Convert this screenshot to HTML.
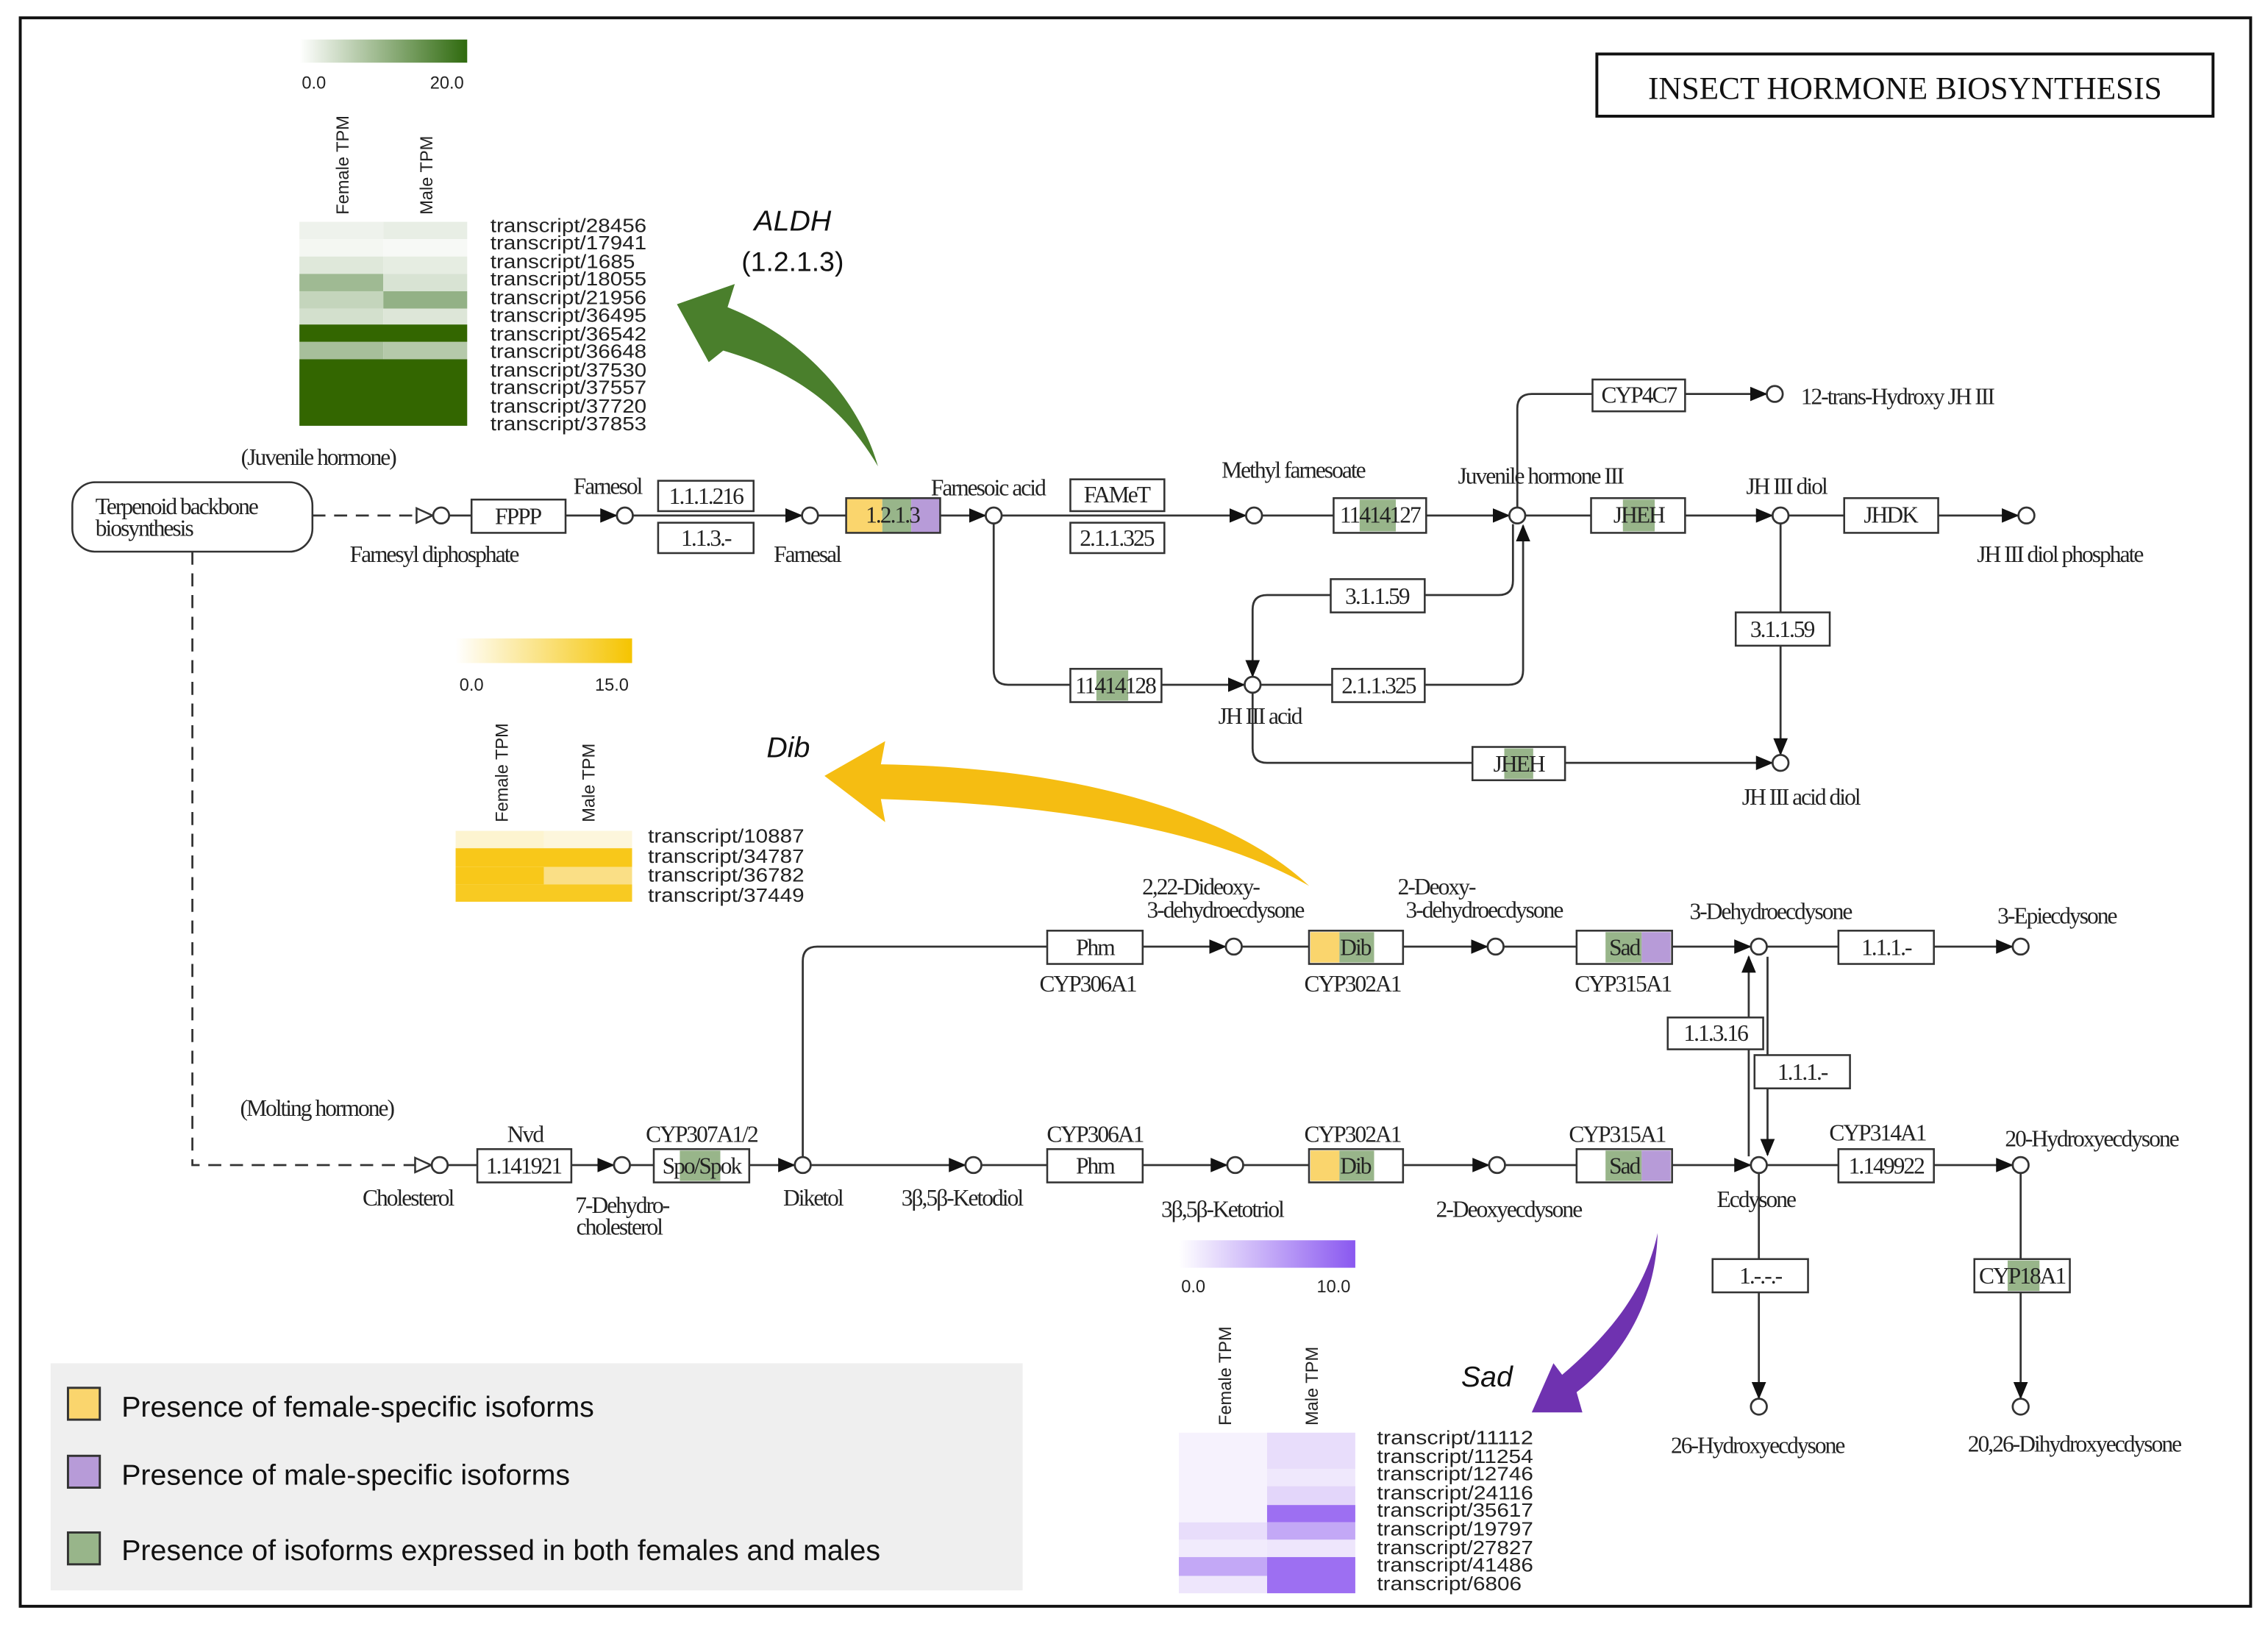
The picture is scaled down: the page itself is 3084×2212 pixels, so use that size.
<!DOCTYPE html>
<html><head><meta charset="utf-8"><style>
html,body{margin:0;padding:0;background:#fff;}
svg{display:block;}
.t{font-family:"Liberation Serif",serif;font-size:16px;fill:#222;letter-spacing:-1px;}
.b{fill:#fff;stroke:#333;stroke-width:1.3;}
.l{stroke:#333;stroke-width:1.4;fill:none;}
.c{fill:#fff;stroke:#333;stroke-width:1.4;}
.s{font-family:"Liberation Sans",sans-serif;font-size:12px;fill:#222;}
.tr{font-family:"Liberation Sans",sans-serif;font-size:13px;fill:#222;}
</style></head><body>
<svg width="3084" height="2212" viewBox="0 0 1568 1124" xmlns="http://www.w3.org/2000/svg">
<defs>
<marker id="a" markerUnits="userSpaceOnUse" markerWidth="12" markerHeight="10" refX="11" refY="5" orient="auto"><path d="M0,0 L12,5 L0,10 z" fill="#111"/></marker>
<marker id="o" markerUnits="userSpaceOnUse" markerWidth="14" markerHeight="12" refX="12" refY="6" orient="auto"><path d="M1,1 L12,6 L1,11 z" fill="#fff" stroke="#333" stroke-width="1.3"/></marker>
<linearGradient id="gg"><stop offset="0" stop-color="#fff"/><stop offset="1" stop-color="#2f6a0e"/></linearGradient>
<linearGradient id="gy"><stop offset="0" stop-color="#fff"/><stop offset="1" stop-color="#f5c400"/></linearGradient>
<linearGradient id="gp"><stop offset="0" stop-color="#fff"/><stop offset="1" stop-color="#8a58f0"/></linearGradient>
</defs>
<rect x="14" y="12" width="1542" height="1098" fill="#fff" stroke="#111" stroke-width="2"/>
<rect x="1104" y="37" width="426" height="43" fill="#fff" stroke="#111" stroke-width="2"/>
<text x="1317" y="68" text-anchor="middle" font-family="Liberation Serif,serif" font-size="22" fill="#111">INSECT HORMONE BIOSYNTHESIS</text>

<rect x="207" y="27" width="116" height="16" fill="url(#gg)"/>
<text class="s" x="217" y="61" text-anchor="middle">0.0</text><text class="s" x="309" y="61" text-anchor="middle">20.0</text>
<text class="s" transform="translate(241,148) rotate(-90)">Female TPM</text>
<text class="s" transform="translate(299,148) rotate(-90)">Male TPM</text>
<g>
<rect x="207" y="153" width="58" height="12" fill="#eef2ec"/><rect x="265" y="153" width="58" height="12" fill="#e8eee5"/>
<rect x="207" y="165" width="58" height="12" fill="#f4f7f2"/><rect x="265" y="165" width="58" height="12" fill="#f7f9f6"/>
<rect x="207" y="177" width="58" height="12" fill="#dfe8da"/><rect x="265" y="177" width="58" height="12" fill="#e6ede2"/>
<rect x="207" y="189" width="58" height="12" fill="#9fba93"/><rect x="265" y="189" width="58" height="12" fill="#d8e3d3"/>
<rect x="207" y="201" width="58" height="12" fill="#c4d5bc"/><rect x="265" y="201" width="58" height="12" fill="#93b186"/>
<rect x="207" y="213" width="58" height="11" fill="#d3e0cd"/><rect x="265" y="213" width="58" height="11" fill="#dde6d8"/>
<rect x="207" y="224" width="116" height="12" fill="#336600"/>
<rect x="207" y="236" width="58" height="12" fill="#a7bf9b"/><rect x="265" y="236" width="58" height="12" fill="#b5c9aa"/>
<rect x="207" y="248" width="116" height="46" fill="#336600"/>
</g>
<g class="tr">
<text x="339" y="160" textLength="108" lengthAdjust="spacingAndGlyphs">transcript/28456</text>
<text x="339" y="172" textLength="108" lengthAdjust="spacingAndGlyphs">transcript/17941</text>
<text x="339" y="185" textLength="100" lengthAdjust="spacingAndGlyphs">transcript/1685</text>
<text x="339" y="197" textLength="108" lengthAdjust="spacingAndGlyphs">transcript/18055</text>
<text x="339" y="210" textLength="108" lengthAdjust="spacingAndGlyphs">transcript/21956</text>
<text x="339" y="222" textLength="108" lengthAdjust="spacingAndGlyphs">transcript/36495</text>
<text x="339" y="235" textLength="108" lengthAdjust="spacingAndGlyphs">transcript/36542</text>
<text x="339" y="247" textLength="108" lengthAdjust="spacingAndGlyphs">transcript/36648</text>
<text x="339" y="260" textLength="108" lengthAdjust="spacingAndGlyphs">transcript/37530</text>
<text x="339" y="272" textLength="108" lengthAdjust="spacingAndGlyphs">transcript/37557</text>
<text x="339" y="285" textLength="108" lengthAdjust="spacingAndGlyphs">transcript/37720</text>
<text x="339" y="297" textLength="108" lengthAdjust="spacingAndGlyphs">transcript/37853</text>
</g>
<text x="548" y="159" text-anchor="middle" font-family="Liberation Sans,sans-serif" font-style="italic" font-size="20" fill="#111">ALDH</text>
<text x="548" y="187" text-anchor="middle" font-family="Liberation Sans,sans-serif" font-size="19" fill="#111">(1.2.1.3)</text>
<path d="M468,210 L508,196 L503,212 C560,235 595,280 607,322 C585,285 555,258 500,242 L490,250 Z" fill="#4a7f2c"/>

<rect x="315" y="441" width="122" height="17" fill="url(#gy)"/>
<text class="s" x="326" y="477" text-anchor="middle">0.0</text><text class="s" x="423" y="477" text-anchor="middle">15.0</text>
<text class="s" transform="translate(351,568) rotate(-90)">Female TPM</text>
<text class="s" transform="translate(411,568) rotate(-90)">Male TPM</text>
<rect x="315" y="574" width="61" height="12" fill="#fdf4d0"/><rect x="376" y="574" width="61" height="12" fill="#fdf6dc"/>
<rect x="315" y="586" width="122" height="13" fill="#f8c81a"/>
<rect x="315" y="599" width="61" height="12" fill="#f8c81a"/><rect x="376" y="599" width="61" height="12" fill="#fadf86"/>
<rect x="315" y="611" width="122" height="12" fill="#f8ca22"/>
<g class="tr">
<text x="448" y="582" textLength="108" lengthAdjust="spacingAndGlyphs">transcript/10887</text>
<text x="448" y="596" textLength="108" lengthAdjust="spacingAndGlyphs">transcript/34787</text>
<text x="448" y="609" textLength="108" lengthAdjust="spacingAndGlyphs">transcript/36782</text>
<text x="448" y="623" textLength="108" lengthAdjust="spacingAndGlyphs">transcript/37449</text>
</g>
<text x="545" y="523" text-anchor="middle" font-family="Liberation Sans,sans-serif" font-style="italic" font-size="20" fill="#111">Dib</text>
<path d="M570,536 L612,512 L609,528 C740,530 850,560 905,612 C840,575 740,556 609,552 L612,568 Z" fill="#f5bd12"/>

<rect x="815" y="857" width="122" height="19" fill="url(#gp)"/>
<text class="s" x="825" y="893" text-anchor="middle">0.0</text><text class="s" x="922" y="893" text-anchor="middle">10.0</text>
<text class="s" transform="translate(851,985) rotate(-90)">Female TPM</text>
<text class="s" transform="translate(911,985) rotate(-90)">Male TPM</text>
<g>
<rect x="815" y="990" width="61" height="111" fill="#f6f2fd"/>
<rect x="876" y="990" width="61" height="25" fill="#e8ddfb"/>
<rect x="876" y="1015" width="61" height="12" fill="#efe8fc"/>
<rect x="876" y="1027" width="61" height="13" fill="#e3d6fa"/>
<rect x="876" y="1040" width="61" height="12" fill="#9d6ff2"/>
<rect x="815" y="1052" width="61" height="12" fill="#e8ddfb"/><rect x="876" y="1052" width="61" height="12" fill="#c3a8f6"/>
<rect x="815" y="1064" width="61" height="12" fill="#f1ebfc"/><rect x="876" y="1064" width="61" height="12" fill="#eee6fc"/>
<rect x="815" y="1076" width="61" height="13" fill="#c3a8f6"/><rect x="876" y="1076" width="61" height="25" fill="#9d6ff2"/>
<rect x="815" y="1089" width="61" height="12" fill="#eee6fc"/>
</g>
<g class="tr">
<text x="952" y="998" textLength="108" lengthAdjust="spacingAndGlyphs">transcript/11112</text>
<text x="952" y="1011" textLength="108" lengthAdjust="spacingAndGlyphs">transcript/11254</text>
<text x="952" y="1023" textLength="108" lengthAdjust="spacingAndGlyphs">transcript/12746</text>
<text x="952" y="1036" textLength="108" lengthAdjust="spacingAndGlyphs">transcript/24116</text>
<text x="952" y="1048" textLength="108" lengthAdjust="spacingAndGlyphs">transcript/35617</text>
<text x="952" y="1061" textLength="108" lengthAdjust="spacingAndGlyphs">transcript/19797</text>
<text x="952" y="1074" textLength="108" lengthAdjust="spacingAndGlyphs">transcript/27827</text>
<text x="952" y="1086" textLength="108" lengthAdjust="spacingAndGlyphs">transcript/41486</text>
<text x="952" y="1099" textLength="100" lengthAdjust="spacingAndGlyphs">transcript/6806</text>
</g>
<text x="1028" y="958" text-anchor="middle" font-family="Liberation Sans,sans-serif" font-style="italic" font-size="20" fill="#111">Sad</text>
<path d="M1059,976 L1074,942 L1080,950 C1115,920 1138,890 1146,852 C1145,895 1125,935 1090,962 L1094,976 Z" fill="#6f32b0"/>

<rect x="35" y="942" width="672" height="157" fill="#efefef"/>
<rect x="47" y="959" width="22" height="22" fill="#fad56d" stroke="#333" stroke-width="1.5"/>
<rect x="47" y="1006" width="22" height="22" fill="#b79bd8" stroke="#333" stroke-width="1.5"/>
<rect x="47" y="1059" width="22" height="22" fill="#98b58a" stroke="#333" stroke-width="1.5"/>
<g font-family="Liberation Sans,sans-serif" font-size="20" fill="#111">
<text x="84" y="979">Presence of female-specific isoforms</text>
<text x="84" y="1026">Presence of male-specific isoforms</text>
<text x="84" y="1078">Presence of isoforms expressed in both females and males</text>
</g>

<rect x="50" y="333" width="166" height="48" rx="16" class="b"/>
<text class="t" x="66" y="355">Terpenoid backbone</text>
<text class="t" x="66" y="370">biosynthesis</text>
<text class="t" x="220" y="321" text-anchor="middle">(Juvenile hormone)</text>
<path d="M216,356 L299,356" class="l" stroke-dasharray="9,6" marker-end="url(#o)"/>
<path d="M133,381 L133,805 L298,805" class="l" stroke-dasharray="9,6" marker-end="url(#o)"/>

<g class="l">
<path d="M310,356 L326,356"/>
<path d="M391,356 L426,356" marker-end="url(#a)"/>
<path d="M437,356 L554,356" marker-end="url(#a)"/>
<path d="M565,356 L585,356"/>
<path d="M650,356 L681,356" marker-end="url(#a)"/>
<path d="M692,356 L861,356" marker-end="url(#a)"/>
<path d="M872,356 L922,356"/>
<path d="M986,356 L1043,356" marker-end="url(#a)"/>
<path d="M1049,350 L1049,282 Q1049,272 1059,272 L1101,272"/>
<path d="M1165,272 L1221,272" marker-end="url(#a)"/>
<path d="M1054,356 L1100,356"/>
<path d="M1165,356 L1225,356" marker-end="url(#a)"/>
<path d="M1236,356 L1275,356"/>
<path d="M1340,356 L1395,356" marker-end="url(#a)"/>
<path d="M1231,361 L1231,423"/>
<path d="M1231,446 L1231,521" marker-end="url(#a)"/>
<path d="M687,361 L687,463 Q687,473 697,473 L740,473"/>
<path d="M803,473 L860,473" marker-end="url(#a)"/>
<path d="M871,473 L921,473"/>
<path d="M985,473 L1043,473 Q1053,473 1053,463 L1053,363" marker-end="url(#a)"/>
<path d="M1046,362 L1046,401 Q1046,411 1036,411 L985,411"/>
<path d="M920,411 L876,411 Q866,411 866,421 L866,467" marker-end="url(#a)"/>
<path d="M866,479 L866,517 Q866,527 876,527 L1018,527"/>
<path d="M1082,527 L1225,527" marker-end="url(#a)"/>
</g>
<g>
<circle cx="305" cy="356" r="5.5" class="c"/><circle cx="432" cy="356" r="5.5" class="c"/>
<circle cx="560" cy="356" r="5.5" class="c"/><circle cx="687" cy="356" r="5.5" class="c"/>
<circle cx="867" cy="356" r="5.5" class="c"/><circle cx="1049" cy="356" r="5.5" class="c"/>
<circle cx="1227" cy="272" r="5.5" class="c"/><circle cx="1231" cy="356" r="5.5" class="c"/>
<circle cx="1401" cy="356" r="5.5" class="c"/><circle cx="866" cy="473" r="5.5" class="c"/>
<circle cx="1231" cy="527" r="5.5" class="c"/>
</g>
<rect x="326" y="345" width="65" height="23" class="b"/><text class="t" x="358" y="362" text-anchor="middle">FPPP</text>
<rect x="455" y="332" width="66" height="21" class="b"/><text class="t" x="488" y="348" text-anchor="middle">1.1.1.216</text>
<rect x="455" y="361" width="66" height="21" class="b"/><text class="t" x="488" y="377" text-anchor="middle">1.1.3.-</text>
<rect x="585" y="344" width="25" height="24" fill="#fad56d"/><rect x="610" y="344" width="20" height="24" fill="#98b58a"/><rect x="630" y="344" width="20" height="24" fill="#b79bd8"/>
<rect x="585" y="344" width="65" height="24" fill="none" stroke="#333" stroke-width="1.3"/><text class="t" x="617" y="361" text-anchor="middle">1.2.1.3</text>
<rect x="740" y="331" width="65" height="22" class="b"/><text class="t" x="772" y="347" text-anchor="middle">FAMeT</text>
<rect x="740" y="361" width="65" height="21" class="b"/><text class="t" x="772" y="377" text-anchor="middle">2.1.1.325</text>
<rect x="922" y="344" width="64" height="24" class="b"/><rect x="940" y="345" width="25" height="22" fill="#98b58a"/><text class="t" x="954" y="361" text-anchor="middle">11414127</text>
<rect x="1101" y="262" width="64" height="22" class="b"/><text class="t" x="1133" y="278" text-anchor="middle">CYP4C7</text>
<rect x="1100" y="344" width="65" height="24" class="b"/><rect x="1122" y="345" width="22" height="22" fill="#98b58a"/><text class="t" x="1133" y="361" text-anchor="middle">JHEH</text>
<rect x="1275" y="344" width="65" height="24" class="b"/><text class="t" x="1307" y="361" text-anchor="middle">JHDK</text>
<rect x="1200" y="423" width="65" height="23" class="b"/><text class="t" x="1232" y="440" text-anchor="middle">3.1.1.59</text>
<rect x="740" y="462" width="63" height="23" class="b"/><rect x="758" y="463" width="22" height="21" fill="#98b58a"/><text class="t" x="771" y="479" text-anchor="middle">11414128</text>
<rect x="920" y="400" width="65" height="23" class="b"/><text class="t" x="952" y="417" text-anchor="middle">3.1.1.59</text>
<rect x="921" y="462" width="64" height="23" class="b"/><text class="t" x="953" y="479" text-anchor="middle">2.1.1.325</text>
<rect x="1018" y="516" width="64" height="23" class="b"/><rect x="1040" y="517" width="20" height="21" fill="#98b58a"/><text class="t" x="1050" y="533" text-anchor="middle">JHEH</text>
<text class="t" x="420" y="341" text-anchor="middle">Farnesol</text>
<text class="t" x="300" y="388" text-anchor="middle">Farnesyl diphosphate</text>
<text class="t" x="558" y="388" text-anchor="middle">Farnesal</text>
<text class="t" x="683" y="342" text-anchor="middle">Farnesoic acid</text>
<text class="t" x="894" y="330" text-anchor="middle">Methyl farnesoate</text>
<text class="t" x="1065" y="334" text-anchor="middle">Juvenile hormone III</text>
<text class="t" x="1245" y="279">12-trans-Hydroxy JH III</text>
<text class="t" x="1235" y="341" text-anchor="middle">JH III diol</text>
<text class="t" x="1424" y="388" text-anchor="middle">JH III diol phosphate</text>
<text class="t" x="871" y="500" text-anchor="middle">JH III acid</text>
<text class="t" x="1245" y="556" text-anchor="middle">JH III acid diol</text>

<text class="t" x="219" y="771" text-anchor="middle">(Molting hormone)</text>
<g class="l">
<path d="M309,805 L330,805"/>
<path d="M395,805 L424,805" marker-end="url(#a)"/>
<path d="M435,805 L452,805"/>
<path d="M518,805 L549,805" marker-end="url(#a)"/>
<path d="M555,800 L555,664 Q555,654 565,654 L724,654"/>
<path d="M790,654 L847,654" marker-end="url(#a)"/>
<path d="M858,654 L905,654"/>
<path d="M970,654 L1028,654" marker-end="url(#a)"/>
<path d="M1039,654 L1090,654"/>
<path d="M1156,654 L1210,654" marker-end="url(#a)"/>
<path d="M1221,654 L1271,654"/>
<path d="M1337,654 L1391,654" marker-end="url(#a)"/>
<path d="M560,805 L667,805" marker-end="url(#a)"/>
<path d="M678,805 L724,805"/>
<path d="M790,805 L848,805" marker-end="url(#a)"/>
<path d="M859,805 L905,805"/>
<path d="M970,805 L1029,805" marker-end="url(#a)"/>
<path d="M1040,805 L1090,805"/>
<path d="M1156,805 L1210,805" marker-end="url(#a)"/>
<path d="M1221,805 L1271,805"/>
<path d="M1337,805 L1391,805" marker-end="url(#a)"/>
<path d="M1209,799 L1209,661" marker-end="url(#a)"/>
<path d="M1222,661 L1222,798" marker-end="url(#a)"/>
<path d="M1216,811 L1216,966" marker-end="url(#a)"/>
<path d="M1397,811 L1397,966" marker-end="url(#a)"/>
</g>
<g>
<circle cx="304" cy="805" r="5.5" class="c"/><circle cx="430" cy="805" r="5.5" class="c"/>
<circle cx="555" cy="805" r="5.5" class="c"/><circle cx="673" cy="805" r="5.5" class="c"/>
<circle cx="854" cy="805" r="5.5" class="c"/><circle cx="1035" cy="805" r="5.5" class="c"/>
<circle cx="1216" cy="805" r="5.5" class="c"/><circle cx="1397" cy="805" r="5.5" class="c"/>
<circle cx="853" cy="654" r="5.5" class="c"/><circle cx="1034" cy="654" r="5.5" class="c"/>
<circle cx="1216" cy="654" r="5.5" class="c"/><circle cx="1397" cy="654" r="5.5" class="c"/>
<circle cx="1216" cy="972" r="5.5" class="c"/><circle cx="1397" cy="972" r="5.5" class="c"/>
</g>
<rect x="330" y="794" width="65" height="23" class="b"/><text class="t" x="362" y="811" text-anchor="middle">1.141921</text>
<rect x="452" y="794" width="66" height="23" class="b"/><rect x="470" y="795" width="28" height="21" fill="#98b58a"/><text class="t" x="485" y="811" text-anchor="middle">Spo/Spok</text>
<rect x="724" y="643" width="66" height="23" class="b"/><text class="t" x="757" y="660" text-anchor="middle">Phm</text>
<rect x="905" y="643" width="65" height="23" class="b"/><rect x="906" y="644" width="20" height="21" fill="#fad56d"/><rect x="926" y="644" width="24" height="21" fill="#98b58a"/><text class="t" x="937" y="660" text-anchor="middle">Dib</text>
<rect x="1090" y="643" width="66" height="23" class="b"/><rect x="1110" y="644" width="25" height="21" fill="#98b58a"/><rect x="1135" y="644" width="20" height="21" fill="#b79bd8"/><text class="t" x="1123" y="660" text-anchor="middle">Sad</text>
<rect x="1271" y="643" width="66" height="23" class="b"/><text class="t" x="1304" y="660" text-anchor="middle">1.1.1.-</text>
<rect x="724" y="794" width="66" height="23" class="b"/><text class="t" x="757" y="811" text-anchor="middle">Phm</text>
<rect x="905" y="794" width="65" height="23" class="b"/><rect x="906" y="795" width="20" height="21" fill="#fad56d"/><rect x="926" y="795" width="24" height="21" fill="#98b58a"/><text class="t" x="937" y="811" text-anchor="middle">Dib</text>
<rect x="1090" y="794" width="66" height="23" class="b"/><rect x="1110" y="795" width="25" height="21" fill="#98b58a"/><rect x="1135" y="795" width="20" height="21" fill="#b79bd8"/><text class="t" x="1123" y="811" text-anchor="middle">Sad</text>
<rect x="1271" y="794" width="66" height="23" class="b"/><text class="t" x="1304" y="811" text-anchor="middle">1.149922</text>
<rect x="1153" y="703" width="66" height="22" class="b"/><text class="t" x="1186" y="719" text-anchor="middle">1.1.3.16</text>
<rect x="1213" y="729" width="66" height="23" class="b"/><text class="t" x="1246" y="746" text-anchor="middle">1.1.1.-</text>
<rect x="1184" y="870" width="66" height="23" class="b"/><text class="t" x="1217" y="887" text-anchor="middle">1.-.-.-</text>
<rect x="1365" y="870" width="66" height="23" class="b"/><rect x="1388" y="871" width="22" height="21" fill="#98b58a"/><text class="t" x="1398" y="887" text-anchor="middle">CYP18A1</text>
<text class="t" x="363" y="789" text-anchor="middle">Nvd</text>
<text class="t" x="485" y="789" text-anchor="middle">CYP307A1/2</text>
<text class="t" x="282" y="833" text-anchor="middle">Cholesterol</text>
<text class="t" x="430" y="838" text-anchor="middle">7-Dehydro-</text>
<text class="t" x="428" y="853" text-anchor="middle">cholesterol</text>
<text class="t" x="562" y="833" text-anchor="middle">Diketol</text>
<text class="t" x="665" y="833" text-anchor="middle">3β,5β-Ketodiol</text>
<text class="t" x="757" y="789" text-anchor="middle">CYP306A1</text>
<text class="t" x="845" y="841" text-anchor="middle">3β,5β-Ketotriol</text>
<text class="t" x="935" y="789" text-anchor="middle">CYP302A1</text>
<text class="t" x="1043" y="841" text-anchor="middle">2-Deoxyecdysone</text>
<text class="t" x="1118" y="789" text-anchor="middle">CYP315A1</text>
<text class="t" x="1214" y="834" text-anchor="middle">Ecdysone</text>
<text class="t" x="1298" y="788" text-anchor="middle">CYP314A1</text>
<text class="t" x="1446" y="792" text-anchor="middle">20-Hydroxyecdysone</text>
<text class="t" x="752" y="685" text-anchor="middle">CYP306A1</text>
<text class="t" x="935" y="685" text-anchor="middle">CYP302A1</text>
<text class="t" x="1122" y="685" text-anchor="middle">CYP315A1</text>
<text class="t" x="830" y="618" text-anchor="middle">2,22-Dideoxy-</text>
<text class="t" x="847" y="634" text-anchor="middle">3-dehydroecdysone</text>
<text class="t" x="993" y="618" text-anchor="middle">2-Deoxy-</text>
<text class="t" x="1026" y="634" text-anchor="middle">3-dehydroecdysone</text>
<text class="t" x="1224" y="635" text-anchor="middle">3-Dehydroecdysone</text>
<text class="t" x="1422" y="638" text-anchor="middle">3-Epiecdysone</text>
<text class="t" x="1215" y="1004" text-anchor="middle">26-Hydroxyecdysone</text>
<text class="t" x="1434" y="1003" text-anchor="middle">20,26-Dihydroxyecdysone</text>
</svg>
</body></html>
